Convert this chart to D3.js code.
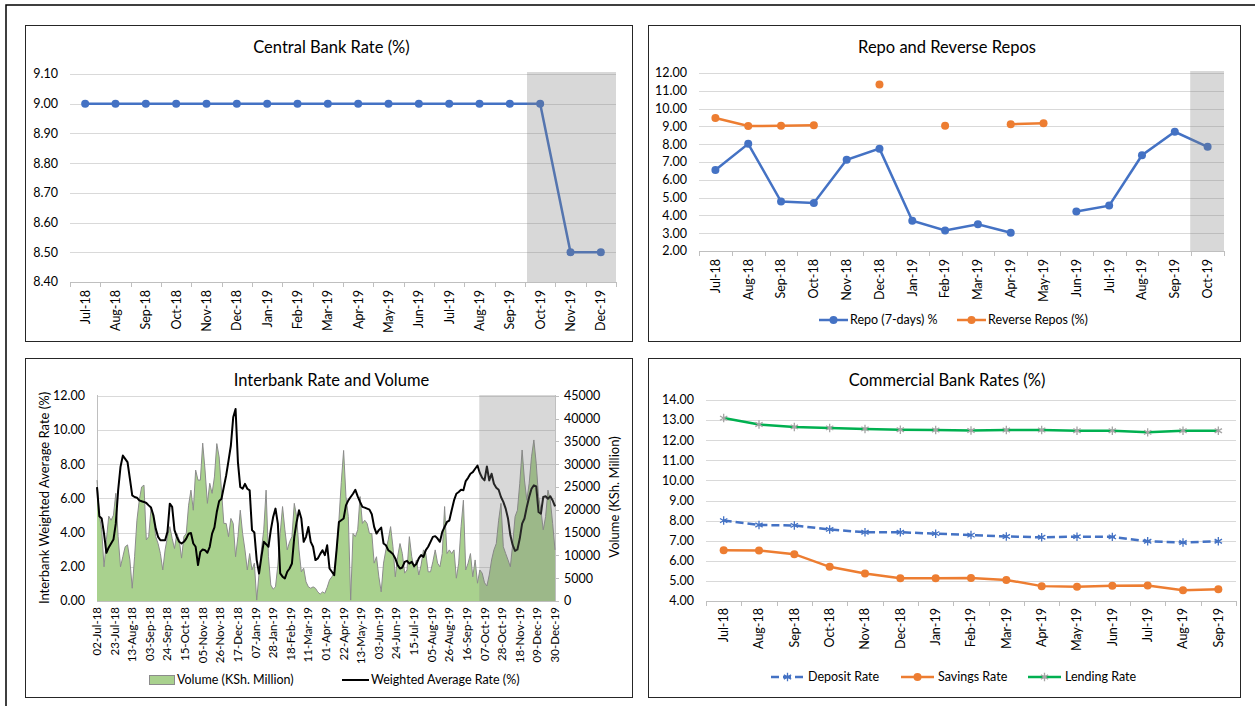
<!DOCTYPE html>
<html>
<head>
<meta charset="utf-8">
<script src="https://cdnjs.cloudflare.com/ajax/libs/d3/7.8.5/d3.min.js"></script>
<style>
body { margin: 0; background: #fff; }
svg text { font-family: Lato, "Open Sans", sans-serif; fill: #000; }
</style>
</head>
<body>
<div id="chart-area"></div>
<script>
// ---- Data ----
var cbrMonths = ["Jul-18","Aug-18","Sep-18","Oct-18","Nov-18","Dec-18","Jan-19","Feb-19","Mar-19",
    "Apr-19","May-19","Jun-19","Jul-19","Aug-19","Sep-19","Oct-19","Nov-19","Dec-19"];
var cbrRate = [9,9,9,9,9,9,9,9,9,9,9,9,9,9,9,9,8.5,8.5];
var cbrTicks = [8.4,8.5,8.6,8.7,8.8,8.9,9.0,9.1];

var repoMonths = ["Jul-18","Aug-18","Sep-18","Oct-18","Nov-18","Dec-18","Jan-19","Feb-19","Mar-19",
    "Apr-19","May-19","Jun-19","Jul-19","Aug-19","Sep-19","Oct-19"];
var repoRate = [6.55,8.02,4.78,4.70,7.12,7.75,3.70,3.15,3.50,3.03,null,4.22,4.55,7.38,8.70,7.85];
var reverseRepoRate = [9.47,9.02,9.03,9.07,null,11.35,null,9.03,null,9.12,9.18,null,null,null,null,null];
var repoTicks = [2,3,4,5,6,7,8,9,10,11,12];

// interbank: one value every 2 business days, 02-Jul-18 .. 30-Dec-19
var ibLabels = ["02-Jul-18","23-Jul-18","13-Aug-18","03-Sep-18","24-Sep-18","15-Oct-18","05-Nov-18",
    "26-Nov-18","17-Dec-18","07-Jan-19","28-Jan-19","18-Feb-19","11-Mar-19","01-Apr-19","22-Apr-19",
    "13-May-19","03-Jun-19","24-Jun-19","15-Jul-19","05-Aug-19","26-Aug-19","16-Sep-19","07-Oct-19",
    "28-Oct-19","18-Nov-19","09-Dec-19","30-Dec-19"];
var ibVolume = [26500,18800,15600,7500,13400,18600,17700,18800,23600,14100,7500,9700,11900,12300,9000,2800,
    9700,17700,22100,25000,25400,13400,14100,20300,18500,14100,12600,10400,6800,11200,14100,16300,
    13700,11500,14800,13400,9400,14100,14800,21000,24300,19900,28700,26500,26500,34600,28700,21400,
    25800,23600,27200,34500,31600,24300,17000,17000,14100,18100,17000,9700,14100,19900,14800,11200,
    6800,10400,6800,8300,200,6100,11200,15600,24300,9700,3500,2600,3100,7900,14800,20700,
    15600,11200,13000,14100,21400,18500,11200,6400,7200,4200,3100,2800,3100,2800,2000,1500,
    2000,1700,3000,4600,5300,6100,11200,17700,26000,33000,22900,18500,200,14800,14100,15600,
    22900,17000,17700,17000,14800,14800,8300,9700,5300,2000,8300,11200,13400,16300,11900,5300,
    9700,12600,10400,6100,6800,14100,9700,7200,9000,5700,7900,11200,10400,6400,6400,8600,
    11200,8300,7500,10400,20700,10400,11200,10400,11200,5000,8300,16300,22100,6800,8300,10400,
    5300,9000,3900,6800,6100,4000,3300,5700,9000,11200,12600,17700,21400,11900,10400,9000,
    7500,12600,18500,19900,25800,33100,26500,22100,25800,31600,35300,30200,22900,19900,15600,18500,
    24300,22100,17000,11200];
var ibRate = [6.66,4.95,4.82,3.94,2.82,3.13,3.36,3.59,4.52,6.47,7.83,8.50,8.31,8.12,7.15,6.17,
    6.08,6.04,5.88,5.83,5.79,5.73,5.59,5.46,5.01,4.23,3.75,3.55,3.55,3.55,4.04,5.69,
    5.50,4.14,3.75,3.46,3.36,3.46,3.65,3.94,3.98,3.36,3.17,2.10,2.87,3.01,2.97,2.82,
    3.17,3.94,4.30,5.20,5.84,5.98,6.66,7.34,8.21,9.09,10.74,11.22,8.12,6.66,6.56,6.85,
    6.56,6.47,4.14,4.00,2.39,1.61,2.58,3.46,3.32,3.17,4.14,4.91,5.40,4.52,1.61,1.42,
    1.32,1.71,1.90,2.19,3.75,4.62,5.30,4.82,3.46,3.75,4.33,3.46,3.17,2.39,2.49,2.74,
    2.97,2.68,3.26,1.90,1.71,1.51,2.97,4.62,4.72,4.82,5.59,5.88,6.08,6.27,6.50,6.12,
    5.79,5.50,5.46,5.40,5.34,5.07,4.33,3.94,4.14,4.29,3.36,3.26,2.97,2.87,2.74,2.49,
    2.10,1.90,1.96,2.29,2.35,2.19,2.29,2.04,2.16,2.49,2.68,2.58,2.97,3.17,3.46,3.75,
    3.79,3.65,3.46,4.04,4.33,4.62,4.70,5.30,5.88,6.27,6.37,6.50,6.47,7.01,7.20,7.44,
    7.53,7.73,7.92,7.48,7.20,7.05,7.86,7.05,7.44,6.85,6.62,6.50,6.08,5.79,5.40,4.82,
    3.84,3.26,2.93,3.01,3.65,4.52,4.82,5.50,6.08,6.56,6.76,6.70,5.20,5.10,6.08,6.12,
    5.98,6.12,5.88,5.53];
var ibRateTicks = [0,2,4,6,8,10,12];
var ibVolTicks = [0,5000,10000,15000,20000,25000,30000,35000,40000,45000];

var cbMonths = ["Jul-18","Aug-18","Sep-18","Oct-18","Nov-18","Dec-18","Jan-19","Feb-19","Mar-19",
    "Apr-19","May-19","Jun-19","Jul-19","Aug-19","Sep-19"];
var depositRate = [8.00,7.78,7.76,7.56,7.42,7.42,7.35,7.28,7.21,7.17,7.20,7.19,6.97,6.91,6.97];
var savingsRate = [6.52,6.51,6.33,5.70,5.37,5.13,5.13,5.15,5.05,4.74,4.71,4.76,4.77,4.54,4.58];
var lendingRate = [13.10,12.78,12.66,12.61,12.56,12.52,12.51,12.48,12.51,12.51,12.47,12.47,12.39,12.47,12.47];
var cbTicks = [4,5,6,7,8,9,10,11,12,13,14];

var blue = "#4472c4", orange = "#ed7d31", green = "#00b050", grid = "#d9d9d9";

var svg = d3.select("#chart-area")
    .append("svg")
    .attr("width", 1255)
    .attr("height", 706);

// outer frame
svg.append("path")
    .attr("d", "M6,706 L6,5 L1255,5")
    .attr("fill", "none")
    .attr("stroke", "#000")
    .attr("stroke-width", 1.5);

function panel(x0, y0, x1, y1, title, ty) {
    svg.append("rect")
        .attr("x", x0 + 0.5).attr("y", y0 + 0.5)
        .attr("width", x1 - x0).attr("height", y1 - y0)
        .attr("fill", "#fff")
        .attr("stroke", "#262626");
    svg.append("text")
        .attr("x", (x0 + x1) / 2 + 3)
        .attr("y", ty)
        .attr("font-size", "16.5px")
        .attr("text-anchor", "middle")
        .text(title);
}

function yGrid(g, y, ticks, xl, xr, fmt) {
    ticks.forEach(function(t) {
        g.append("line")
            .attr("x1", xl).attr("x2", xr)
            .attr("y1", Math.round(y(t)) + 0.5).attr("y2", Math.round(y(t)) + 0.5)
            .attr("stroke", grid);
        g.append("text")
            .attr("x", xl - 12)
            .attr("y", y(t))
            .attr("dy", "0.35em")
            .attr("font-size", "12.5px")
            .attr("text-anchor", "end")
            .text(fmt(t));
    });
}

function bandAxis(g, x, yb, labelY) {
    g.append("line")
        .attr("x1", x.range()[0]).attr("x2", x.range()[1])
        .attr("y1", yb + 0.5).attr("y2", yb + 0.5)
        .attr("stroke", "#bfbfbf");
    d3.range(x.domain().length + 1).forEach(function(i) {
        var xx = Math.round(x.range()[0] + i * x.step()) + 0.5;
        g.append("line")
            .attr("x1", xx).attr("x2", xx)
            .attr("y1", yb).attr("y2", yb + 5)
            .attr("stroke", "#bfbfbf");
    });
    x.domain().forEach(function(m) {
        var cx = x(m) + x.bandwidth() / 2;
        g.append("text")
            .attr("transform", "translate(" + cx + "," + labelY + ") rotate(-90)")
            .attr("dy", "0.35em")
            .attr("font-size", "12.5px")
            .attr("text-anchor", "end")
            .text(m);
    });
}

var f2 = d3.format(".2f");

// ---- Panel 1: Central Bank Rate ----
panel(25, 25, 632, 341, "Central Bank Rate (%)", 53);
var g1 = svg.append("g");
var x1 = d3.scaleBand().domain(cbrMonths).range([70, 616]);
var y1 = d3.scaleLinear().domain([8.4, 9.1]).range([282, 74]);
yGrid(g1, y1, cbrTicks, 70, 616, f2);
bandAxis(g1, x1, 282, 290);
var line1 = d3.line()
    .x(function(d, i) { return x1(cbrMonths[i]) + x1.bandwidth() / 2; })
    .y(function(d) { return y1(d); });
g1.append("path").datum(cbrRate)
    .attr("d", line1).attr("fill", "none")
    .attr("stroke", blue).attr("stroke-width", 2.5);
g1.selectAll("circle").data(cbrRate).enter().append("circle")
    .attr("cx", function(d, i) { return x1(cbrMonths[i]) + x1.bandwidth() / 2; })
    .attr("cy", function(d) { return y1(d); })
    .attr("r", 4).attr("fill", blue);
g1.append("rect")
    .attr("x", x1("Oct-19") + 2).attr("y", y1(9.1) - 2)
    .attr("width", 616 - x1("Oct-19") - 2).attr("height", y1(8.4) - y1(9.1) + 2)
    .attr("fill", "#7f7f7f").attr("opacity", 0.3);

// ---- Panel 2: Repo ----
panel(648, 25, 1240, 341, "Repo and Reverse Repos", 53);
var g2 = svg.append("g");
var x2 = d3.scaleBand().domain(repoMonths).range([699, 1224]);
var y2 = d3.scaleLinear().domain([2, 12]).range([251, 73]);
yGrid(g2, y2, repoTicks, 699, 1224, f2);
bandAxis(g2, x2, 251, 259);
[[repoRate, blue], [reverseRepoRate, orange]].forEach(function(s) {
    var vals = s[0], color = s[1];
    var ln = d3.line()
        .defined(function(d) { return d != null; })
        .x(function(d, i) { return x2(repoMonths[i]) + x2.bandwidth() / 2; })
        .y(function(d) { return y2(d); });
    g2.append("path").datum(vals)
        .attr("d", ln).attr("fill", "none")
        .attr("stroke", color).attr("stroke-width", 2.5);
    vals.forEach(function(d, i) {
        if (d == null) return;
        g2.append("circle")
            .attr("cx", x2(repoMonths[i]) + x2.bandwidth() / 2)
            .attr("cy", y2(d))
            .attr("r", 4).attr("fill", color);
    });
});
g2.append("rect")
    .attr("x", x2("Oct-19") - 1).attr("y", y2(12) - 2)
    .attr("width", 1224 - x2("Oct-19") + 1).attr("height", y2(2) - y2(12) + 2)
    .attr("fill", "#7f7f7f").attr("opacity", 0.3);
// legend
var leg2 = [["Repo (7-days) %", blue, 819], ["Reverse Repos (%)", orange, 957]];
leg2.forEach(function(l) {
    g2.append("line").attr("x1", l[2]).attr("x2", l[2] + 29)
        .attr("y1", 320).attr("y2", 320)
        .attr("stroke", l[1]).attr("stroke-width", 2.5);
    g2.append("circle").attr("cx", l[2] + 14.5).attr("cy", 320).attr("r", 4).attr("fill", l[1]);
    g2.append("text").attr("x", l[2] + 31).attr("y", 320).attr("dy", "0.35em")
        .attr("font-size", "12.5px").text(l[0]);
});

// ---- Panel 3: Interbank ----
panel(25, 358, 632, 697, "Interbank Rate and Volume", 386);
var g3 = svg.append("g");
var x3 = d3.scaleLinear().domain([0, 390]).range([97, 555]);
var y3 = d3.scaleLinear().domain([0, 12]).range([601, 395.7]);
var yv = d3.scaleLinear().domain([0, 45000]).range([601, 395.7]);
yGrid(g3, y3, ibRateTicks, 97, 555, f2);
ibVolTicks.forEach(function(t) {
    g3.append("line").attr("x1", 555).attr("x2", 559)
        .attr("y1", Math.round(yv(t)) + 0.5).attr("y2", Math.round(yv(t)) + 0.5)
        .attr("stroke", "#bfbfbf");
    g3.append("text").attr("x", 564).attr("y", yv(t)).attr("dy", "0.35em")
        .attr("font-size", "12.5px").text(t);
});
g3.append("line").attr("x1", 97.5).attr("x2", 97.5).attr("y1", 395).attr("y2", 601).attr("stroke", "#bfbfbf");
g3.append("line").attr("x1", 555.5).attr("x2", 555.5).attr("y1", 395).attr("y2", 601).attr("stroke", "#bfbfbf");
g3.append("line").attr("x1", 97).attr("x2", 555).attr("y1", 601.5).attr("y2", 601.5).attr("stroke", "#bfbfbf");
ibLabels.forEach(function(l, k) {
    g3.append("text")
        .attr("transform", "translate(" + x3(k * 15) + ",607) rotate(-90)")
        .attr("dy", "0.35em")
        .attr("font-size", "11.5px")
        .attr("text-anchor", "end")
        .text(l);
});
var area3 = d3.area()
    .x(function(d, i) { return x3(i * 2); })
    .y0(601)
    .y1(function(d) { return yv(d); });
g3.append("path").datum(ibVolume)
    .attr("d", area3).attr("fill", "#a9d18e");
g3.append("path").datum(ibVolume)
    .attr("d", d3.line().x(function(d, i) { return x3(i * 2); }).y(function(d) { return yv(d); }))
    .attr("fill", "none").attr("stroke", "#8c8c8c").attr("stroke-width", 1);
g3.append("path").datum(ibRate)
    .attr("d", d3.line().x(function(d, i) { return x3(i * 2); }).y(function(d) { return y3(d); }))
    .attr("fill", "none").attr("stroke", "#000").attr("stroke-width", 2)
    .attr("stroke-linejoin", "round");
g3.append("rect")
    .attr("x", x3(325.5)).attr("y", 395)
    .attr("width", 555 - x3(325.5)).attr("height", 206)
    .attr("fill", "#7f7f7f").attr("opacity", 0.3);
g3.append("text")
    .attr("transform", "translate(44,498) rotate(-90)")
    .attr("dy", "0.35em").attr("font-size", "13px").attr("text-anchor", "middle")
    .text("Interbank Weighted Average Rate (%)");
g3.append("text")
    .attr("transform", "translate(614,497) rotate(-90)")
    .attr("dy", "0.35em").attr("font-size", "13px").attr("text-anchor", "middle")
    .text("Volume (KSh. Million)");
// legend
g3.append("rect").attr("x", 149.5).attr("y", 675.5).attr("width", 25).attr("height", 9)
    .attr("fill", "#a9d18e").attr("stroke", "#8c8c8c");
g3.append("text").attr("x", 177).attr("y", 680).attr("dy", "0.35em").attr("font-size", "12.5px")
    .text("Volume (KSh. Million)");
g3.append("line").attr("x1", 342).attr("x2", 369).attr("y1", 680).attr("y2", 680)
    .attr("stroke", "#000").attr("stroke-width", 2);
g3.append("text").attr("x", 371).attr("y", 680).attr("dy", "0.35em").attr("font-size", "12.5px")
    .text("Weighted Average Rate (%)");

// ---- Panel 4: Commercial Bank Rates ----
panel(648, 358, 1240, 697, "Commercial Bank Rates (%)", 386);
var g4 = svg.append("g");
var x4 = d3.scaleBand().domain(cbMonths).range([706, 1236]);
var y4 = d3.scaleLinear().domain([4, 14]).range([601, 400]);
yGrid(g4, y4, cbTicks, 706, 1236, f2);
bandAxis(g4, x4, 601, 608);
var star = d3.symbol().type(d3.symbolAsterisk).size(50);
var cbSeries = [
    { name: "Deposit Rate", values: depositRate, color: blue, marker: "star", mcolor: blue, dash: "8,4", lx: 771 },
    { name: "Savings Rate", values: savingsRate, color: orange, marker: "circle", mcolor: orange, dash: null, lx: 901 },
    { name: "Lending Rate", values: lendingRate, color: green, marker: "star", mcolor: "#a5a5a5", dash: null, lx: 1028 }
];
cbSeries.forEach(function(s) {
    var ln = d3.line()
        .x(function(d, i) { return x4(cbMonths[i]) + x4.bandwidth() / 2; })
        .y(function(d) { return y4(d); });
    g4.append("path").datum(s.values)
        .attr("d", ln).attr("fill", "none")
        .attr("stroke", s.color).attr("stroke-width", 2.5)
        .attr("stroke-dasharray", s.dash);
    s.values.forEach(function(d, i) {
        var cx = x4(cbMonths[i]) + x4.bandwidth() / 2, cy = y4(d);
        if (s.marker === "circle") {
            g4.append("circle").attr("cx", cx).attr("cy", cy).attr("r", 4).attr("fill", s.mcolor);
        } else {
            g4.append("path").attr("d", star())
                .attr("transform", "translate(" + cx + "," + cy + ")")
                .attr("fill", "none").attr("stroke", s.mcolor).attr("stroke-width", 1.3);
        }
    });
    // legend
    g4.append("line").attr("x1", s.lx).attr("x2", s.lx + 33).attr("y1", 677).attr("y2", 677)
        .attr("stroke", s.color).attr("stroke-width", 2.5).attr("stroke-dasharray", s.dash);
    if (s.marker === "circle") {
        g4.append("circle").attr("cx", s.lx + 16.5).attr("cy", 677).attr("r", 4).attr("fill", s.mcolor);
    } else {
        g4.append("path").attr("d", star())
            .attr("transform", "translate(" + (s.lx + 16.5) + ",677)")
            .attr("fill", "none").attr("stroke", s.mcolor).attr("stroke-width", 1.3);
    }
    g4.append("text").attr("x", s.lx + 37).attr("y", 677).attr("dy", "0.35em")
        .attr("font-size", "12.5px").text(s.name);
});
</script>
</body>
</html>
